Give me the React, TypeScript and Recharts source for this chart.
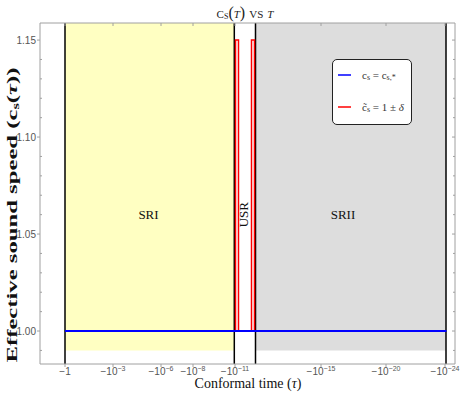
import React from 'react';
import {
  ComposedChart,
  Line,
  XAxis,
  YAxis,
  ReferenceArea,
  ReferenceLine,
  ReferenceDot,
  Legend,
  Customized,
} from 'recharts';

// Position along the (piecewise logarithmic) conformal-time axis
const xDomain = [0, 415];
const xTickPositions = [25, 73, 121, 153, 195, 281, 346, 405];
const xTickExponents = ['', '3', '6', '8', '11', '15', '20', '24'];

const yDomain = [0.983, 1.1588];
const yMajorTicks = [1.0, 1.05, 1.1, 1.15];
const yMajorLabels = ['1.00', '1.05', '1.10', '1.15'];
const yMinorTicks = [0.99, 1.01, 1.02, 1.03, 1.04, 1.06, 1.07, 1.08, 1.09, 1.11, 1.12, 1.13, 1.14];

// Phases
const phaseNames = ['SRI', 'USR', 'SRII'];
const phaseStart = [25, 194.3, 215.5];
const phaseEnd = [194.3, 215.5, 406];
const phaseFill = ['#ffffc2', 'none', '#dddddd'];
const phaseLabelX = [108.5, 204, 303];
const phaseLabelY = [1.06, 1.06, 1.06];
const phaseBottom = 0.99;
const boundaryLines = [25, 194.3, 215.5, 406];

// Series
const blueX = [25, 406.5];
const blueY = [1.0, 1.0];
const redX = [195.5, 195.5, 198.5, 198.5, 211.5, 211.5, 214.5, 214.5];
const redY = [1.0, 1.15, 1.15, 1.0, 1.0, 1.15, 1.15, 1.0];

const blueData = blueX.map((x, i) => ({ x, y: blueY[i] }));
const redData = redX.map((x, i) => ({ x, y: redY[i] }));

const FRAME = '#a0a0a0';
const TICKTXT = '#555555';
const SANS = '"Liberation Sans", Arial, sans-serif';
const SERIF = '"Liberation Serif", "Times New Roman", serif';

const isMajor = (v: number) => yMajorTicks.findIndex((m) => Math.abs(m - v) < 1e-6);

function YTickLeft(props: any) {
  const { x, y, payload } = props;
  const idx = isMajor(payload.value);
  if (idx >= 0) {
    return (
      <g>
        <line x1={x - 3} x2={x} y1={y} y2={y} stroke={FRAME} />
        <text x={x - 4} y={y} dy={3.5} textAnchor="end" fontSize={10} fill={TICKTXT} fontFamily={SANS}>
          {yMajorLabels[idx]}
        </text>
      </g>
    );
  }
  return <line x1={x} x2={x + 2} y1={y} y2={y} stroke={FRAME} />;
}

function YTickRight(props: any) {
  const { x, y, payload } = props;
  const idx = isMajor(payload.value);
  return <line x1={x - (idx >= 0 ? 3 : 2)} x2={x} y1={y} y2={y} stroke={FRAME} />;
}

function XTickBottom(props: any) {
  const { x, y, payload } = props;
  const i = xTickPositions.indexOf(payload.value);
  const exp = xTickExponents[i];
  return (
    <g>
      <line x1={x} x2={x} y1={y} y2={y + 3} stroke={FRAME} />
      <text x={x} y={y + 11} textAnchor="middle" fontSize={10} fill={TICKTXT} fontFamily={SANS}>
        {exp === '' ? '\u22121' : '\u221210'}
        {exp !== '' && (
          <tspan dy={-4} fontSize={7}>
            {'\u2212' + exp}
          </tspan>
        )}
      </text>
    </g>
  );
}

function XTickTop(props: any) {
  const { x, y } = props;
  return <line x1={x} x2={x} y1={y} y2={y + 3} stroke={FRAME} />;
}

function PhaseLabel(name: string, rotate: boolean) {
  return (props: any) => {
    const vb = props.viewBox || {};
    const cx = (vb.x ?? vb.cx ?? 0) + (vb.width ?? 0) / 2;
    const cy = (vb.y ?? vb.cy ?? 0) + (vb.height ?? 0) / 2;
    return (
      <text
        x={cx}
        y={cy}
        textAnchor="middle"
        dominantBaseline="central"
        fontSize={13}
        fontFamily={SERIF}
        fill="#111"
        transform={rotate ? `rotate(-90, ${cx}, ${cy})` : undefined}
      >
        {name}
      </text>
    );
  };
}

function Texts() {
  return (
    <g>
      <text x={245} y={12} textAnchor="middle" dominantBaseline="central" fontSize={16} fontFamily={SERIF} fill="#222" style={{ fontVariant: 'small-caps' }}>
        c<tspan fontSize={12} dy={3}>s</tspan>
        <tspan dy={-3}>(</tspan>
        <tspan fontStyle="italic">{'\u03c4'}</tspan>) vs <tspan fontStyle="italic">{'\u03c4'}</tspan>
      </text>
      <text x={248} y={383} textAnchor="middle" dominantBaseline="central" fontSize={14} fontFamily={SERIF} fill="#111">
        Conformal time (<tspan fontStyle="italic">{'\u03c4'}</tspan>)
      </text>
      <text
        x={12}
        y={215}
        textAnchor="middle"
        dominantBaseline="central"
        fontSize={15}
        fontWeight="bold"
        fontFamily={SERIF}
        fill="#111"
        textLength={295}
        lengthAdjust="spacingAndGlyphs"
        transform="rotate(-90, 12, 215)"
      >
        Effective sound speed (c<tspan fontSize={10} dy={3}>s</tspan>
        <tspan dy={-3}>(</tspan>
        <tspan fontStyle="italic">{'\u03c4'}</tspan>))
      </text>
    </g>
  );
}

const legendColors = ['#0000ff', '#ff0000'];

function LegendBox() {
  return (
    <div
      style={{
        width: 80,
        height: 66,
        boxSizing: 'border-box',
        border: '1px solid #222',
        borderRadius: 5,
        background: '#ffffff',
      }}
    >
      <svg width={78} height={64} style={{ display: 'block' }}>
        <line x1={5} x2={18} y1={15} y2={15} stroke={legendColors[0]} strokeWidth={1.5} />
        <text x={29} y={15} dominantBaseline="central" fontSize={11} fontFamily={SERIF} fill="#333">
          c<tspan fontSize={8} dy={2}>s</tspan>
          <tspan dy={-2}> = c</tspan>
          <tspan fontSize={8} dy={2}>s,*</tspan>
        </text>
        <line x1={5} x2={18} y1={47} y2={47} stroke={legendColors[1]} strokeWidth={1.5} />
        <text x={29} y={47} dominantBaseline="central" fontSize={11} fontFamily={SERIF} fill="#333">
          {'c\u0303'}
          <tspan fontSize={8} dy={2}>s</tspan>
          <tspan dy={-2}> = 1 ± </tspan>
          <tspan fontStyle="italic">{'\u03b4'}</tspan>
        </text>
      </svg>
    </div>
  );
}

export default function App() {
  const yTicks = [...yMinorTicks, ...yMajorTicks].sort((a, b) => a - b);
  return (
    <div style={{ position: 'absolute', left: 0, top: 0, width: 463, height: 409, background: '#fff' }}>
      <ComposedChart width={463} height={409} margin={{ top: 0, right: 0, bottom: 0, left: 0 }}>
        <XAxis
          xAxisId={0}
          type="number"
          dataKey="x"
          domain={xDomain}
          ticks={xTickPositions}
          interval={0}
          height={45}
          tickSize={0}
          tickMargin={0}
          tickLine={false}
          axisLine={{ stroke: FRAME }}
          tick={<XTickBottom />}
          allowDataOverflow
        />
        <XAxis
          xAxisId="top"
          orientation="top"
          type="number"
          dataKey="x"
          domain={xDomain}
          ticks={xTickPositions}
          interval={0}
          height={23}
          tickSize={0}
          tickMargin={0}
          tickLine={false}
          axisLine={{ stroke: FRAME }}
          tick={<XTickTop />}
          allowDataOverflow
        />
        <YAxis
          yAxisId={0}
          type="number"
          domain={yDomain}
          ticks={yTicks}
          interval={0}
          width={40}
          tickSize={0}
          tickMargin={0}
          tickLine={false}
          axisLine={{ stroke: FRAME }}
          tick={<YTickLeft />}
          allowDataOverflow
        />
        <YAxis
          yAxisId="right"
          orientation="right"
          type="number"
          domain={yDomain}
          ticks={yTicks}
          interval={0}
          width={8}
          tickSize={0}
          tickMargin={0}
          tickLine={false}
          axisLine={{ stroke: FRAME }}
          tick={<YTickRight />}
          allowDataOverflow
        />
        {phaseNames.map((n, i) =>
          phaseFill[i] === 'none' ? null : (
            <ReferenceArea
              key={'a' + n}
              x1={phaseStart[i]}
              x2={phaseEnd[i]}
              y1={phaseBottom}
              y2={yDomain[1]}
              fill={phaseFill[i]}
              fillOpacity={1}
              stroke="none"
            />
          )
        )}
        {boundaryLines.map((x) => (
          <ReferenceLine key={'b' + x} x={x} stroke="#000" strokeWidth={1.5} />
        ))}
        {phaseNames.map((n, i) => (
          <ReferenceDot
            key={'l' + n}
            x={phaseLabelX[i]}
            y={phaseLabelY[i]}
            r={0}
            fill="none"
            stroke="none"
            label={PhaseLabel(n, n === 'USR')}
          />
        ))}
        <Line
          data={redData}
          dataKey="y"
          type="linear"
          stroke="#ff0000"
          strokeWidth={1.5}
          dot={false}
          isAnimationActive={false}
          name="c~s = 1 ± δ"
        />
        <Line
          data={blueData}
          dataKey="y"
          type="linear"
          stroke="#0000ff"
          strokeWidth={2}
          dot={false}
          isAnimationActive={false}
          name="cs = cs,*"
        />
        <Legend
          layout="vertical"
          align="center"
          verticalAlign="middle"
          wrapperStyle={{ left: 332, top: 59, width: 80, height: 66 }}
          content={() => <LegendBox />}
        />
        <Customized component={Texts} />
      </ComposedChart>
    </div>
  );
}
